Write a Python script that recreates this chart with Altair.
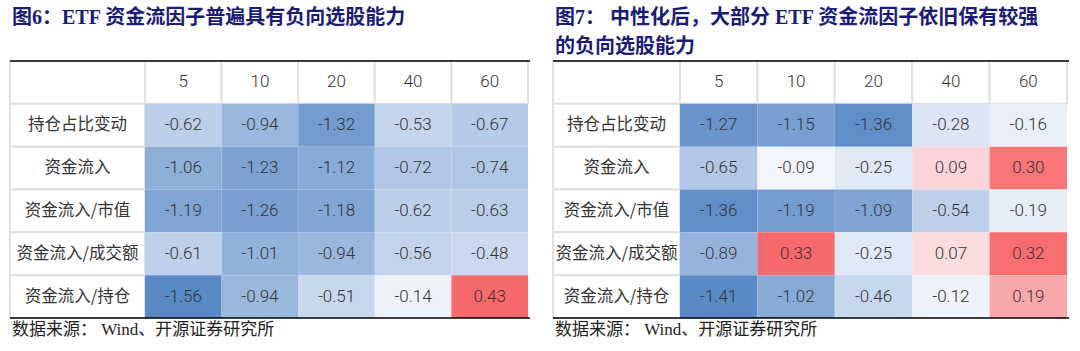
import altair as alt
import pandas as pd

cols = ["5", "10", "20", "40", "60"]
rows = ["持仓占比变动", "资金流入", "资金流入/市值", "资金流入/成交额", "资金流入/持仓"]

left_values = [
    [-0.62, -0.94, -1.32, -0.53, -0.67],
    [-1.06, -1.23, -1.12, -0.72, -0.74],
    [-1.19, -1.26, -1.18, -0.62, -0.63],
    [-0.61, -1.01, -0.94, -0.56, -0.48],
    [-1.56, -0.94, -0.51, -0.14, 0.43],
]
right_values = [
    [-1.27, -1.15, -1.36, -0.28, -0.16],
    [-0.65, -0.09, -0.25, 0.09, 0.30],
    [-1.36, -1.19, -1.09, -0.54, -0.19],
    [-0.89, 0.33, -0.25, 0.07, 0.32],
    [-1.41, -1.02, -0.46, -0.12, 0.19],
]
left_title = ["图6：ETF 资金流因子普遍具有负向选股能力"]
right_title = ["图7： 中性化后，大部分  ETF  资金流因子依旧保有较强", "的负向选股能力"]
source = "数据来源： Wind、开源证券研究所"

BLUE, WHITE, RED = "#5A8AC6", "#FCFCFF", "#F8696B"
GRID = "#E1E1E1"
TXT = "#333333"
NUM_FONT = "Roboto"
CJK_FONT = "Noto Sans CJK SC"
SERIF = "Liberation Serif, Noto Sans CJK SC"
HDR = "表头"
H = 257


def panel(values, title_lines, label_w, plot_w):
    flat = [v for r in values for v in r]
    vmin, vmax = min(flat), max(flat)
    ydom = [HDR] + rows
    cells = pd.DataFrame(
        [
            {"row": r, "col": c, "v": values[i][j], "txt": f"{values[i][j]:.2f}"}
            for i, r in enumerate(rows)
            for j, c in enumerate(cols)
        ]
    )
    xs = alt.X("col:N", scale=alt.Scale(domain=cols, paddingInner=0, paddingOuter=0), axis=None)
    ys = alt.Y("row:N", scale=alt.Scale(domain=ydom, paddingInner=0, paddingOuter=0), axis=None)

    hdr_df = pd.DataFrame({"row": [HDR] * len(cols), "col": cols})
    lab_df = pd.DataFrame({"row": ydom, "label": [""] + rows})

    hdr_rect = alt.Chart(hdr_df).mark_rect(fill="white", stroke=GRID, strokeWidth=2).encode(x=xs, y=ys)
    hdr_txt = alt.Chart(hdr_df).mark_text(
        font=NUM_FONT, fontWeight=300, fontSize=17, color=TXT
    ).encode(x=xs, y=ys, text="col:N")
    lab_rect = alt.Chart(lab_df).mark_rect(fill="white", stroke=GRID, strokeWidth=2).encode(
        x=alt.value(-label_w), x2=alt.value(0), y=ys
    )
    lab_txt = alt.Chart(lab_df).mark_text(font=CJK_FONT, fontSize=16.5, color=TXT).encode(
        x=alt.value(-label_w / 2), y=ys, text="label:N"
    )
    heat = alt.Chart(cells).mark_rect().encode(
        x=xs,
        y=ys,
        color=alt.Color(
            "v:Q",
            scale=alt.Scale(domain=[vmin, 0, vmax], range=[BLUE, WHITE, RED], interpolate="rgb"),
            legend=None,
        ),
    )
    nums = alt.Chart(cells).mark_text(
        font=NUM_FONT, fontWeight=300, fontSize=17, color=TXT
    ).encode(x=xs, y=ys, text="txt:N")

    one = pd.DataFrame({"k": [0]})
    top_rule = alt.Chart(one).mark_rule(color="black", strokeWidth=1.5).encode(
        x=alt.value(-label_w), x2=alt.value(plot_w + 2), y=alt.value(0)
    )
    bot_rule = alt.Chart(one).mark_rule(color="black", strokeWidth=1.5).encode(
        x=alt.value(-label_w), x2=alt.value(plot_w + 2), y=alt.value(H)
    )
    title = alt.Chart(pd.DataFrame({"t": ["\n".join(title_lines)]})).mark_text(
        align="left", baseline="top", font=SERIF, fontSize=20, fontWeight="bold",
        color="#1B1B78", lineBreak="\n", lineHeight=29,
    ).encode(x=alt.value(-label_w + 2), y=alt.value(-53), text="t:N")
    src = alt.Chart(pd.DataFrame({"t": [source]})).mark_text(
        align="left", baseline="top", font=SERIF, fontSize=17, color="#222222",
    ).encode(x=alt.value(-label_w + 2), y=alt.value(H + 4), text="t:N")

    return alt.layer(
        hdr_rect, lab_rect, heat, hdr_txt, lab_txt, nums, top_rule, bot_rule, title, src
    ).properties(width=plot_w, height=H)


left = panel(left_values, left_title, 135, 383)
right = panel(right_values, right_title, 127, 387)

chart = (
    alt.hconcat(left, right, spacing=152, bounds="flush")
    .resolve_scale(color="independent", x="independent", y="independent")
    .properties(padding={"left": 9, "top": 8, "right": 0, "bottom": 0}, background="white")
    .configure_view(stroke=None)
)

chart.save("out.html", embed_options={"renderer": "svg", "actions": False})
